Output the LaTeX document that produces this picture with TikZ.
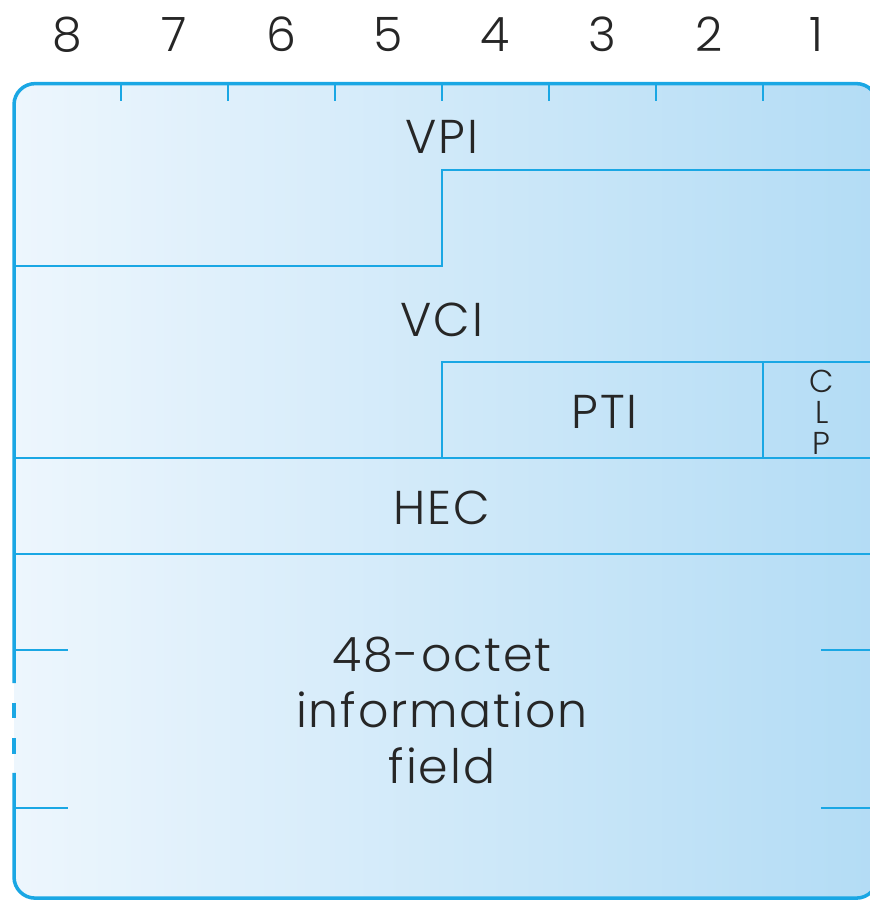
\documentclass[tikz,border=0pt]{standalone}
\usepackage{fontspec}
\setmainfont{Poppins Light}[LetterSpace=4]
\usetikzlibrary{positioning}
\definecolor{celeste}{HTML}{1AA7E4}
\definecolor{fondoizq}{HTML}{EDF6FD}
\definecolor{fondoder}{HTML}{B3DCF5}
\tikzset{
  campo/.style={font=\fontsize{13.5}{16}\selectfont, text=black!85},
  bitnum/.style={font=\fontsize{13.5}{16}\selectfont, text=black!85},
  clp/.style={font=\fontsize{9}{8.8}\selectfont, align=center, text=black!85},
  borde/.style={celeste, line width=1pt},
  linea/.style={celeste, line width=0.6pt},
}

\begin{document}
\begin{tikzpicture}[x=1.07cm, y=0.96cm]
    \clip (-0.131,-3.615) rectangle (8.0,5.771);
    % fondo de la celda
    \shade[left color=fondoizq, right color=fondoder, rounded corners=6pt]
      (0,-3.585) rectangle (8.07,4.9);
    % contorno, cortado a la izquierda
    \draw[borde, rounded corners=6pt] (0,-1.344) -- (0,4.9) -- (8.07,4.9)
      -- (8.07,-3.585) -- (0,-3.585) -- (0,-2.281);
    \draw[borde] (0,-1.552) -- (0,-1.708) (0,-1.917) -- (0,-2.083);
    % numeros de bit
    \foreach \b in {1,...,8}
      \node[bitnum] (bit\b) at (8.5-\b,5.41) {\b};
    \foreach \x in {1,...,7}
      \draw[linea] (\x,4.9) -- (\x,4.72);
    % limites de los campos
    \draw[linea] (8.07,4) -- (4,4) -- (4,3) -- (0,3);
    \draw[linea] (8.07,2) -- (4,2) -- (4,1);
    \draw[linea] (7,2) -- (7,1);
    \draw[linea] (0,1) -- (8.07,1);
    \draw[linea] (0,0) -- (8.07,0);
    \foreach \y in {-1,-2.646} {
      \draw[linea] (0,\y) -- (0.505,\y);
      \draw[linea] (7.54,\y) -- (8.07,\y);
    }
    % nombres de los campos
    \node[campo] (vpi) at (4,4.34) {VPI};
    \node[campo] (vci) at (4,2.44) {VCI};
    \node[campo] (pti) at (5.52,1.48) {PTI};
    \node[clp] (clpbit) at (7.55,1.474) {C\\L\\P};
    \node[campo] (hec) at (4,0.48) {HEC};
    \node[campo, align=center, font=\fontsize{13.5}{15.8}\selectfont]
      (carga) at (4,-1.63) {48-octet\\information\\field};
  \end{tikzpicture}
\end{document}
